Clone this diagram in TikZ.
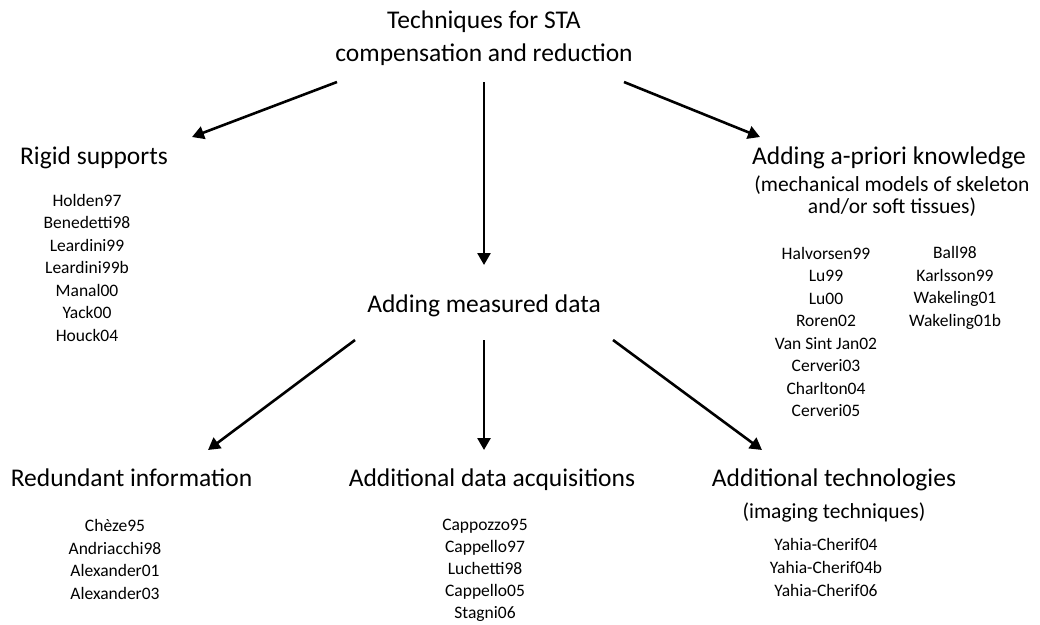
\documentclass[tikz,border=0pt]{standalone}
\usepackage{fontspec}
\setmainfont{Carlito}
\usetikzlibrary{calc,arrows.meta}

\begin{document}
\begin{tikzpicture}[x=1pt,y=-1pt,
  arr/.style={-{Triangle[length=12pt,width=13pt]},line width=2.6pt},
  root/.style={inner sep=0pt,font=\fontsize{25.5}{33}\selectfont,align=center},
  head/.style={inner sep=0pt,font=\fontsize{25.5}{33}\selectfont,text height=0.9em,text depth=0.1em},
  sub/.style={inner sep=0pt,font=\fontsize{21.5}{22}\selectfont,align=center},
  refs/.style={inner sep=0pt,font=\fontsize{17.5}{22.5}\selectfont,align=center}]

  % Frame
  \useasboundingbox (0,0) rectangle (1040,624);

  % Root
  \node[root] (title) at (484,38.5) {Techniques for STA\\compensation and reduction};

  % First level
  \node[head] (rigid) at (94,160) {Rigid supports};
  \node[head] (measured) at (484,308) {Adding measured data};
  \node[head] (prior) at (889,160) {Adding a-priori knowledge};
  \node[sub] (priorsub) at (892,196) {(mechanical models of skeleton\\and/or soft tissues)};

  % Second level
  \node[head] (redundant) at (131.5,482) {Redundant information};
  \node[head] (acq) at (492,482) {Additional data acquisitions};
  \node[head] (tech) at (834,482) {Additional technologies};
  \node[sub] (techsub) at (834,512) {(imaging techniques)};

  % Reference lists
  \node[refs] (rigidrefs) at (87,267.5) {Holden97\\Benedetti98\\Leardini99\\Leardini99b\\Manal00\\Yack00\\Houck04};
  \node[refs] (priorrefsA) at (826,332) {Halvorsen99\\Lu99\\Lu00\\Roren02\\Van Sint Jan02\\Cerveri03\\Charlton04\\Cerveri05};
  \node[refs] (priorrefsB) at (955,288) {Ball98\\Karlsson99\\Wakeling01\\Wakeling01b};
  \node[refs] (redundantrefs) at (115,559.5) {Chèze95\\Andriacchi98\\Alexander01\\Alexander03};
  \node[refs,font=\fontsize{17.5}{22}\selectfont] (acqrefs) at (485,570) {Cappozzo95\\Cappello97\\Luchetti98\\Cappello05\\Stagni06};
  \node[refs,font=\fontsize{17.5}{23}\selectfont] (techrefs) at (826,567) {Yahia-Cherif04\\Yahia-Cherif04b\\Yahia-Cherif06};

  % Arrows from the root
  \draw[arr] ($(title)+(-147,43.5)$) -- ($(rigid)+(98,-23)$);
  \draw[arr] ($(title)+(0,43.5)$) -- ($(measured)+(0,-43)$);
  \draw[arr] ($(title)+(140,43.5)$) -- ($(prior)+(-129,-23)$);

  % Arrows from measured data
  \draw[arr] ($(measured)+(-129,32)$) -- ($(redundant)+(76.5,-32)$);
  \draw[arr] ($(measured)+(0,32)$) -- ($(acq)+(-8,-32)$);
  \draw[arr] ($(measured)+(129,32)$) -- ($(tech)+(-72,-32)$);

\end{tikzpicture}
\end{document}
